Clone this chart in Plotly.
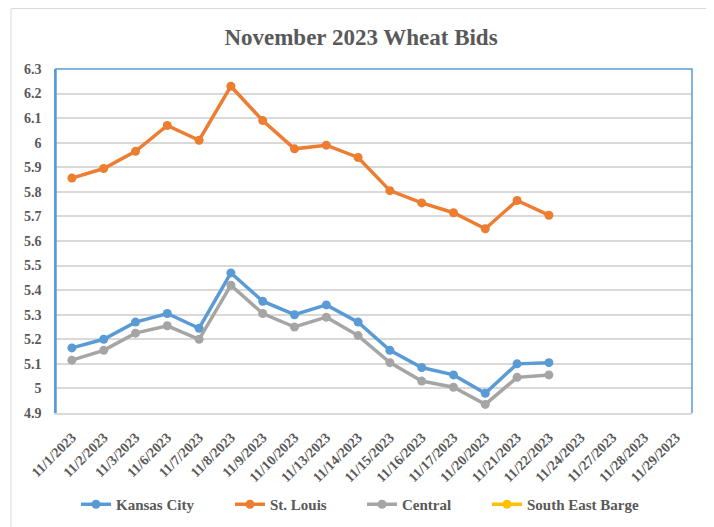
import plotly.graph_objects as go

dates = ["11/1/2023", "11/2/2023", "11/3/2023", "11/6/2023", "11/7/2023", "11/8/2023",
         "11/9/2023", "11/10/2023", "11/13/2023", "11/14/2023", "11/15/2023", "11/16/2023",
         "11/17/2023", "11/20/2023", "11/21/2023", "11/22/2023", "11/24/2023", "11/27/2023",
         "11/28/2023", "11/29/2023"]

kansas_city = [5.165, 5.20, 5.27, 5.305, 5.245, 5.47, 5.355, 5.30, 5.34, 5.27, 5.155, 5.085,
               5.055, 4.98, 5.10, 5.105, None, None, None, None]
st_louis = [5.856, 5.895, 5.965, 6.07, 6.01, 6.23, 6.09, 5.975, 5.99, 5.94, 5.805, 5.755,
            5.715, 5.65, 5.765, 5.705, None, None, None, None]
central = [5.115, 5.155, 5.225, 5.255, 5.20, 5.42, 5.305, 5.25, 5.29, 5.215, 5.105, 5.03,
           5.005, 4.935, 5.045, 5.055, None, None, None, None]
south_east_barge = [None] * 20

y_ticks = [4.9, 5.0, 5.1, 5.2, 5.3, 5.4, 5.5, 5.6, 5.7, 5.8, 5.9, 6.0, 6.1, 6.2, 6.3]
y_tick_text = ["4.9", "5", "5.1", "5.2", "5.3", "5.4", "5.5", "5.6", "5.7", "5.8", "5.9", "6",
               "6.1", "6.2", "6.3"]

series = [
    ("Kansas City", kansas_city, "#5B9BD5", "legend"),
    ("St. Louis", st_louis, "#ED7D31", "legend2"),
    ("Central", central, "#A5A5A5", "legend3"),
    ("South East Barge", south_east_barge, "#FFC000", "legend4"),
]

FONT = "Liberation Serif"
GREY = "#595959"

fig = go.Figure()
for name, vals, color, lg in series:
    fig.add_trace(go.Scatter(
        x=dates, y=vals, name=name, mode="lines+markers",
        line=dict(color=color, width=3.5),
        marker=dict(color=color, size=9, symbol="circle"),
        legend=lg, showlegend=True,
    ))

# page body has an 8px margin: work in window pixels and shift;
# the figure is made taller than the window so the legend never pushes the margins
O = 8
W, H = 714 - O, 560 - O
L, R, T, B = 56 - O, 692 - O, 69 - O, 413 - O
pw, ph = R - L, B - T

def px_x(p):
    return (p - O - L) / pw

def px_y(p):
    return (B - (p - O)) / ph

legend_font = dict(family=FONT, size=15, color=GREY, weight="bold")
leg_y = px_y(488)
leg_common = dict(orientation="h", yanchor="top", y=leg_y, xanchor="left",
                  font=legend_font, bgcolor="rgba(0,0,0,0)", borderwidth=0)

fig.update_layout(
    width=W, height=H,
    margin=dict(l=L, r=W - R, t=T, b=H - B),
    paper_bgcolor="white", plot_bgcolor="white",
    showlegend=True,
    title=dict(text="November 2023 Wheat Bids", x=(361 - O) / W, xanchor="center",
               y=1 - (37 - O) / H, yanchor="middle", xref="container", yref="container",
               font=dict(family=FONT, size=23, color=GREY, weight="bold")),
    font=dict(family=FONT, color=GREY),
    xaxis=dict(type="category", categoryorder="array", categoryarray=dates,
               tickangle=-45, showgrid=False, showline=True, linecolor="#D9D9D9",
               linewidth=1.5, ticks="", range=[-0.5, 19.5], automargin=False,
               ticklabelstandoff=9,
               tickfont=dict(family=FONT, size=14, color=GREY, weight="bold")),
    yaxis=dict(range=[4.9, 6.3], tickvals=y_ticks, ticktext=y_tick_text,
               showgrid=True, gridcolor="#D9D9D9", gridwidth=1.5, zeroline=False,
               showline=True, linecolor="#5B9BD5", linewidth=1.5, ticks="",
               ticklabelstandoff=10, automargin=False,
               tickfont=dict(family=FONT, size=14, color=GREY, weight="bold")),
    legend=dict(x=px_x(76), **leg_common),
    legend2=dict(x=px_x(230), **leg_common),
    legend3=dict(x=px_x(362), **leg_common),
    legend4=dict(x=px_x(487), **leg_common),
    shapes=[
        dict(type="rect", xref="paper", yref="paper",
             x0=px_x(11), x1=px_x(708), y0=px_y(545), y1=px_y(8.5),
             line=dict(color="#D9D9D9", width=1), layer="below"),
        dict(type="path", xref="paper", yref="paper",
             path="M 0,0 L 0,1 L 1,1 L 1,0",
             line=dict(color="#5B9BD5", width=1.5), layer="above"),
    ],
)

fig.write_html("out.html")
